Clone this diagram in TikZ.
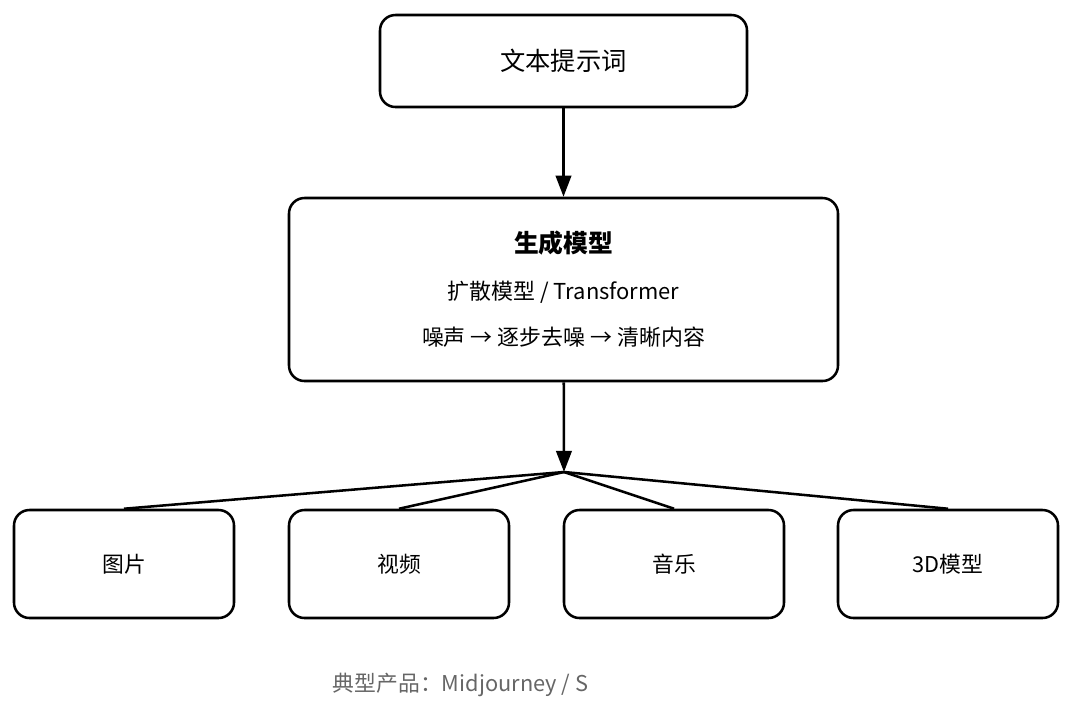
\documentclass[tikz,border=0pt]{standalone}
\usepackage{fontspec}
\setmainfont{Noto Sans CJK SC}
\usetikzlibrary{arrows.meta}
\tikzset{
  caixa/.style={draw, line width=1.8pt, rounded corners=11pt, fill=white, inner sep=0pt},
  seta/.style={line width=1.8pt, -{Triangle[length=15pt,width=11pt]}},
  ramo/.style={line width=1.8pt}
}
\begin{document}
\begin{tikzpicture}[x=0.025cm,y=-0.025cm]
\useasboundingbox (0,0) rectangle (1080,713);

% entrada
\node[caixa, minimum width=367*0.025cm, minimum height=92*0.025cm,
  font=\fontsize{18}{22}\selectfont] (prompt) at (563.5,61) {文本提示词};

% modelo
\node[caixa, minimum width=549*0.025cm, minimum height=183*0.025cm] (modelo) at (563.5,289.5) {};
\node[font=\fontsize{17.6}{21}\selectfont\bfseries] (titulo) at (563.5,243) {生成模型};
\node[font=\fontsize{15.6}{19}\selectfont] (tipo) at (563.5,292) {扩散模型 / Transformer};
\node[font=\fontsize{15.6}{19}\selectfont] (passos) at (563.5,337) {噪声 → 逐步去噪 → 清晰内容};

% saídas
\coordinate (ramos) at (564,472);
\foreach \nome/\x/\texto in {imagem/124/图片, video/399/视频, musica/674/音乐, tresd/948/3D模型} {
  \node[caixa, minimum width=220*0.025cm, minimum height=108*0.025cm,
    font=\fontsize{15.5}{19}\selectfont] (\nome) at (\x,564) {\texto};
  \draw[ramo] (ramos) -- (\nome.north);
}

% setas
\draw[seta] (prompt) -- (modelo);
\draw[seta] (modelo) -- (ramos);

% legenda
\node[anchor=west, text=black!60, font=\fontsize{15.5}{19}\selectfont] (produtos) at (328,685) {典型产品：Midjourney / S};

\end{tikzpicture}
\end{document}
